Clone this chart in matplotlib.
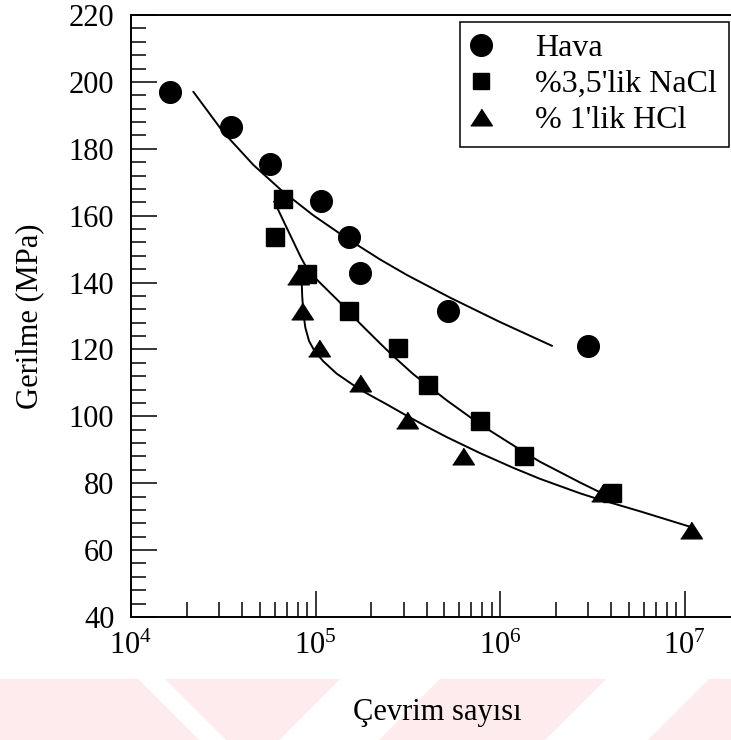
import matplotlib
matplotlib.use('Agg')
import matplotlib.pyplot as plt
import matplotlib.patches as patches
from matplotlib.lines import Line2D
from matplotlib.ticker import MultipleLocator, LogLocator, NullFormatter

plt.rcParams['font.family'] = ['Liberation Serif', 'DejaVu Serif']
plt.rcParams['mathtext.fontset'] = 'custom'
plt.rcParams['mathtext.rm'] = 'Liberation Serif'
plt.rcParams['mathtext.it'] = 'Liberation Serif:italic'

# measured points
hava_N = [1.63e4, 3.47e4, 5.66e4, 1.07e5, 1.52e5, 1.74e5, 5.25e5, 3.0e6]
hava_S = [197, 186.5, 175.5, 164.5, 153.5, 143, 131.5, 121]

nacl_N = [6.7e4, 6.03e4, 8.96e4, 1.51e5, 2.81e5, 4.08e5, 7.8e5, 1.35e6, 4.03e6]
nacl_S = [165, 153.5, 142.5, 131.5, 120.5, 109.5, 98.5, 88, 77]

hcl_N = [8.07e4, 8.42e4, 1.05e5, 1.74e5, 3.12e5, 6.3e5, 3.55e6, 1.09e7]
hcl_S = [142, 131.5, 120.5, 110, 99, 88, 77, 66]

# fitted curves
hava_fit_N = [2.18e4, 3.16e4, 4.6e4, 6.56e4, 9.73e4, 1.48e5, 2.24e5, 3.12e5, 5.36e5, 1.0e6, 1.91e6]
hava_fit_S = [197, 185.0, 175.2, 167.5, 160.1, 153.2, 146.9, 142.3, 135.5, 128.2, 121.1]

nacl_fit_N = [5.98e4, 6.76e4, 7.59e4, 8.32e4, 8.91e4, 9.55e4, 1.02e5, 1.36e5, 1.74e5,
              2.24e5, 2.64e5, 3.39e5, 5.14e5, 7.8e5, 1.34e6, 1.65e6, 2.72e6, 3.63e6]
nacl_fit_S = [164.2, 158, 152.2, 147.6, 144.6, 142.4, 140.8, 134, 127.8,
              121.8, 118, 112.6, 104.8, 97.6, 89.4, 86.4, 80.2, 76.8]

hcl_fit_N = [8.41e4, 8.47e4, 8.59e4, 8.81e4, 9.23e4, 9.89e4, 1.10e5, 1.30e5, 1.74e5,
             2.43e5, 3.12e5, 3.98e5, 5.14e5, 7.8e5, 1.18e6, 1.65e6, 2.71e6, 3.21e6,
             5.74e6, 1.07e7]
hcl_fit_S = [141, 136, 131, 126.5, 122.5, 119.5, 116.5, 112.8, 108,
             103.6, 100.2, 97.0, 93.8, 89.0, 84.6, 81.3, 77.0, 75.7,
             71.6, 67.0]

labels = ["Hava", "%3,5'lik NaCl", "% 1'lik HCl"]

W, H = 731, 740
fig = plt.figure(figsize=(W / 100, H / 100), dpi=100)

# faint pink watermark stripes at the bottom of the page
pink = '#fdebee'
stripes = [
    [(0, 679), (138, 679), (199, 740), (0, 740)],
    [(165, 679), (340, 679), (279, 740), (226, 740)],
    [(440, 679), (606, 679), (545, 740), (379, 740)],
    [(709, 679), (731, 679), (731, 740), (648, 740)],
]
for pts in stripes:
    poly = patches.Polygon([(x / W, 1 - y / H) for x, y in pts], closed=True,
                           facecolor=pink, edgecolor='none',
                           transform=fig.transFigure, zorder=-5)
    fig.patches.append(poly)

ax = fig.add_axes([131 / W, 1 - 617 / H, 600 / W, 602 / H])
ax.set_zorder(2)
ax.set_xscale('log')
ax.set_xlim(1e4, 10 ** 7.252)
ax.set_ylim(40, 220)

tri = [(-1, -0.77), (1, -0.77), (0, 0.77)]
lw = 1.4
ax.plot(hava_fit_N, hava_fit_S, color='black', lw=lw)
ax.plot(nacl_fit_N, nacl_fit_S, color='black', lw=lw)
ax.plot(hcl_fit_N, hcl_fit_S, color='black', lw=lw)

ax.plot(hava_N, hava_S, 'o', color='black', ms=15.6, ls='none')
ax.plot(nacl_N, nacl_S, 's', color='black', ms=13.2, ls='none')
ax.plot(hcl_N, hcl_S, marker=tri, color='black', ms=15.6, ls='none')

ax.yaxis.set_major_locator(MultipleLocator(20))
ax.yaxis.set_minor_locator(MultipleLocator(4))
ax.xaxis.set_major_locator(LogLocator(base=10, numticks=10))
ax.xaxis.set_minor_locator(LogLocator(base=10, subs=range(2, 10), numticks=20))
ax.xaxis.set_minor_formatter(NullFormatter())

ax.tick_params(which='both', direction='in', width=1.1, colors='black', labelsize=22)
ax.tick_params(which='major', length=19)
ax.tick_params(which='minor', length=10.5)
ax.tick_params(axis='y', which='major', pad=12)
ax.tick_params(axis='x', which='major', pad=11)

for side in ['left', 'bottom', 'top']:
    ax.spines[side].set_linewidth(1.4)
ax.spines['right'].set_visible(False)

ax.set_ylabel("Gerilme (MPa)", fontsize=22, va='center')
ax.yaxis.set_label_coords(-0.168, 0.5)
ax.set_xlabel("Çevrim sayısı", fontsize=22, va='center')
ax.xaxis.set_label_coords(0.51, -0.159)

handles = [
    Line2D([], [], marker='o', color='black', ms=15.6, ls='none'),
    Line2D([], [], marker='s', color='black', ms=11.5, ls='none'),
    Line2D([], [], marker=tri, color='black', ms=15.6, ls='none'),
]
leg = ax.legend(handles, labels, loc='upper right', bbox_to_anchor=(0.9967, 0.9884),
                fontsize=23, frameon=True, fancybox=False, framealpha=1,
                edgecolor='black', borderpad=0.38, labelspacing=0.2,
                handlelength=0.55, handletextpad=1.42, borderaxespad=0)
leg.get_frame().set_linewidth(1.1)

fig.savefig('out.png', dpi=100)
